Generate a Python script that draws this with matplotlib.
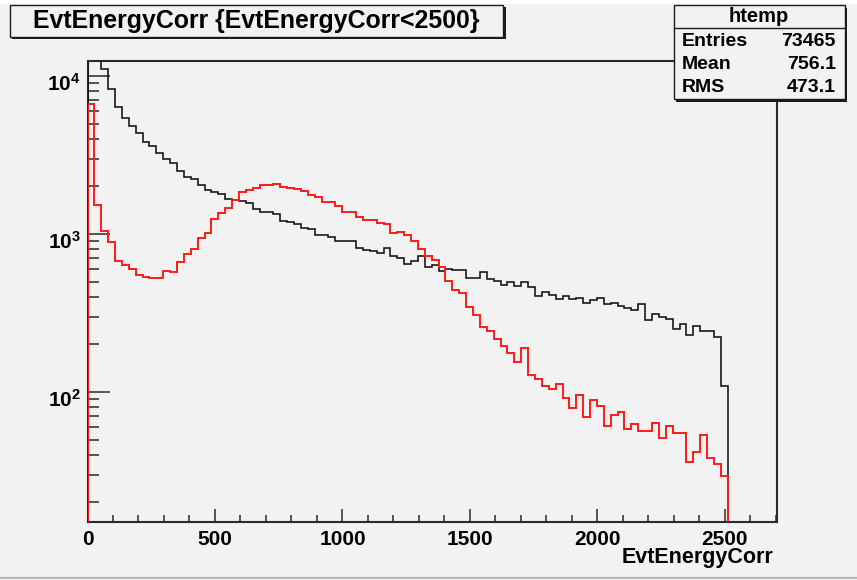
import numpy as np
import matplotlib
matplotlib.use('Agg')
import matplotlib.pyplot as plt
from matplotlib.patches import Rectangle
from matplotlib.lines import Line2D
from matplotlib.ticker import MultipleLocator, LogLocator, NullFormatter, FixedLocator, FixedFormatter
from matplotlib.transforms import ScaledTranslation

# ---------------- data ----------------
BIN_LO = 0.0
BIN_W = 27.0

black_counts = [
    16000, 13500, 11070, 8240, 6340, 5445, 4825, 4375, 3837, 3622,
    3243, 2983, 2800, 2517, 2306, 2219, 2042, 1898, 1836, 1791,
    1666, 1641, 1625, 1564, 1439, 1384, 1384, 1332, 1214, 1186,
    1151, 1096, 1070, 981, 981, 962, 907, 907, 907, 812,
    792, 780, 762, 812, 726, 702, 643, 672, 729, 616,
    640, 586, 600, 592, 592, 529, 529, 575, 517, 504,
    476, 494, 469, 494, 464, 407, 432, 409, 386, 407,
    386, 392, 364, 382, 392, 360, 367, 352, 339, 330,
    360, 285, 310, 297, 290, 250, 268, 230, 262, 244,
    244, 224, 109,
]

red_counts = [
    6622, 1526, 1049, 894, 678, 637, 600, 550, 537, 529,
    529, 583, 572, 668, 743, 800, 939, 1019, 1244, 1352,
    1468, 1641, 1836, 1907, 1950, 2030, 2030, 2073, 1974, 1945,
    1919, 1879, 1757, 1721, 1602, 1602, 1510, 1384, 1384, 1275,
    1220, 1220, 1168, 1151, 1010, 1030, 985, 903, 804, 728,
    685, 616, 507, 442, 421, 344, 307, 259, 244, 215,
    196, 176, 155, 189, 128, 120, 109, 104, 113, 91,
    79, 96, 69, 89, 81, 61, 72, 75, 58, 62.5,
    57, 57, 63.4, 51, 61, 55, 55, 36, 41.5, 53.5,
    38, 35, 29.4,
]

title_text = "EvtEnergyCorr {EvtEnergyCorr<2500}"
xlabel_text = "EvtEnergyCorr"
stats_name = "htemp"
stats_labels = ["Entries", "Mean", "RMS"]
stats_values = ["73465", "756.1", "473.1"]
y_major = [100, 1000, 10000]
y_major_labels = [r'$\mathbf{10^{2}}$', r'$\mathbf{10^{3}}$', r'$\mathbf{10^{4}}$']

# ---------------- style ----------------
W, H = 857, 580
plt.rcParams['font.family'] = ['Liberation Sans', 'DejaVu Sans']
plt.rcParams['font.weight'] = 'bold'
plt.rcParams['mathtext.fontset'] = 'custom'
plt.rcParams['mathtext.rm'] = 'Liberation Sans:bold'
plt.rcParams['mathtext.bf'] = 'Liberation Sans:bold'
plt.rcParams['mathtext.it'] = 'Liberation Sans:bold'

CANVAS = '#f2f2f2'
FRAME = '#2a2a2a'

fig = plt.figure(figsize=(W / 100, H / 100), dpi=100, facecolor='white')


def fx(px):
    return px / W


def fy(py):
    return 1 - py / H


# canvas background
fig.add_artist(Rectangle((0, fy(577)), 1, fy(4) - fy(577), transform=fig.transFigure,
                         facecolor=CANVAS, edgecolor='none', zorder=-10))
fig.add_artist(Line2D([0, 1], [fy(577.5), fy(577.5)], transform=fig.transFigure,
                      color='#b4b4b4', lw=1.6, zorder=-9))

# axes
ax = fig.add_axes([fx(87.5), fy(522.3), fx(776.7) - fx(87.5), fy(61) - fy(522.3)])
ax.set_facecolor(CANVAS)

edges = BIN_LO + BIN_W * np.arange(len(black_counts) + 1)
ax.stairs(black_counts, edges, baseline=1, color='#111111', lw=1.15, zorder=3)
ax.stairs(red_counts, edges, baseline=1, color='#ff1a1a', lw=1.4, zorder=4)

ax.set_yscale('log')
ax.set_xlim(0, 2703)
ax.set_ylim(14.97, 12440)

for s in ax.spines.values():
    s.set_color(FRAME)
    s.set_linewidth(1.5)

ax.xaxis.set_major_locator(MultipleLocator(500))
ax.xaxis.set_minor_locator(MultipleLocator(100))
ax.yaxis.set_major_locator(FixedLocator(y_major))
ax.yaxis.set_major_formatter(FixedFormatter(y_major_labels))
ax.yaxis.set_minor_locator(LogLocator(base=10, subs=np.arange(2, 10)))
ax.yaxis.set_minor_formatter(NullFormatter())

ax.tick_params(axis='x', which='major', direction='in', length=9.4, width=1.1,
               color=FRAME, labelsize=15, pad=5.5, top=False)
ax.tick_params(axis='x', which='minor', direction='in', length=5, width=1.1,
               color=FRAME, top=False)
ax.tick_params(axis='y', which='major', direction='in', length=15.8, width=1.1,
               color=FRAME, labelsize=15, pad=5, right=False)
ax.tick_params(axis='y', which='minor', direction='in', length=8, width=1.1,
               color=FRAME, right=False)
for lab in ax.get_yticklabels():
    lab.set_transform(lab.get_transform() + ScaledTranslation(0, -4 / 72, fig.dpi_scale_trans))

# x axis title
fig.text(fx(773), fy(558), xlabel_text, ha='right', va='center', fontsize=15.5, fontweight='bold')


def box(x0, y0, x1, y1, shadow=2.5):
    fig.add_artist(Rectangle((fx(x0 + shadow), fy(y1 + shadow)), fx(x1) - fx(x0), fy(y0) - fy(y1),
                             transform=fig.transFigure, facecolor='#1a1a1a', edgecolor='none', zorder=5))
    fig.add_artist(Rectangle((fx(x0), fy(y1)), fx(x1) - fx(x0), fy(y0) - fy(y1),
                             transform=fig.transFigure, facecolor=CANVAS, edgecolor='#1a1a1a',
                             lw=1.0, zorder=6))


# title box
box(9.5, 5, 503, 36.5)
fig.text(fx(256), fy(21), title_text, ha='center', va='center', fontsize=17.9,
         fontweight='bold', zorder=7)

# stats box
box(673.5, 5, 845, 99)
fig.add_artist(Line2D([fx(673.5), fx(845)], [fy(28.3), fy(28.3)], transform=fig.transFigure,
                      color='#1a1a1a', lw=1.0, zorder=7))
fig.text(fx(759), fy(17), stats_name, ha='center', va='center', fontsize=14.5,
         fontweight='bold', zorder=7)
row_y = [41.5, 64.5, 87.5]
for lab, val, yy in zip(stats_labels, stats_values, row_y):
    fig.text(fx(681.5), fy(yy), lab, ha='left', va='center', fontsize=14,
             fontweight='bold', zorder=7)
    fig.text(fx(836), fy(yy), val, ha='right', va='center', fontsize=14,
             fontweight='bold', zorder=7)

fig.savefig('out.png', dpi=100, facecolor=fig.get_facecolor())
